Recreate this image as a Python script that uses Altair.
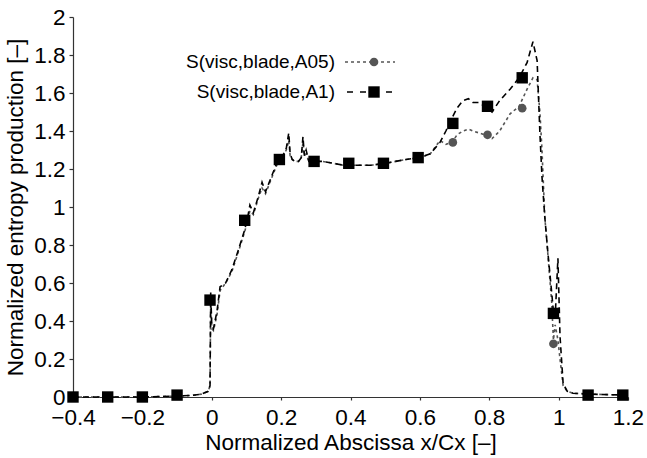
import altair as alt
import pandas as pd

# Line samples (x/Cx) shared by both series
x_line = [-0.4, -0.3, -0.2, -0.1, -0.06, -0.03, -0.01, -0.005, -0.003, 0.0,
          0.005, 0.015, 0.024, 0.04, 0.058, 0.076, 0.095, 0.105, 0.11, 0.12,
          0.135, 0.145, 0.155, 0.17, 0.185, 0.195, 0.205, 0.215, 0.222, 0.226,
          0.232, 0.24, 0.25, 0.258, 0.263, 0.267, 0.272, 0.28, 0.295, 0.32,
          0.35, 0.38, 0.4, 0.43, 0.46, 0.5, 0.53, 0.56, 0.6, 0.63,
          0.658, 0.675, 0.693, 0.707, 0.724, 0.74, 0.753, 0.77, 0.787, 0.808,
          0.83, 0.86, 0.886, 0.909, 0.926, 0.938, 0.946, 0.952, 0.96, 0.969,
          0.98, 0.985, 0.99, 0.998, 1.004, 1.013, 1.025, 1.041, 1.09, 1.19]
y_a1 = [0.0, 0.0, 0.0, 0.005, 0.008, 0.015, 0.03, 0.06, 0.55, 0.38,
        0.36, 0.45, 0.58, 0.6, 0.67, 0.77, 0.88, 0.96, 1.01, 0.97,
        1.06, 1.13, 1.08, 1.15, 1.22, 1.25, 1.27, 1.31, 1.39, 1.28,
        1.25, 1.24, 1.24, 1.26, 1.37, 1.27, 1.3, 1.24, 1.24, 1.24,
        1.23, 1.22, 1.22, 1.22, 1.22, 1.23, 1.24, 1.25, 1.26, 1.28,
        1.34, 1.40, 1.47, 1.52, 1.56, 1.57, 1.55, 1.55, 1.53, 1.50,
        1.56, 1.62, 1.68, 1.76, 1.87, 1.77, 1.39, 1.16, 0.95, 0.76,
        0.55, 0.45, 0.42, 0.73, 0.32, 0.07, 0.03, 0.02, 0.015, 0.01]
y_a05 = [0.0, 0.0, 0.0, 0.005, 0.008, 0.015, 0.03, 0.06, 0.5, 0.36,
         0.35, 0.43, 0.56, 0.6, 0.66, 0.76, 0.87, 0.94, 0.98, 0.96,
         1.05, 1.1, 1.07, 1.14, 1.21, 1.25, 1.27, 1.3, 1.35, 1.27,
         1.25, 1.24, 1.24, 1.26, 1.34, 1.27, 1.28, 1.24, 1.24, 1.24,
         1.23, 1.22, 1.22, 1.22, 1.22, 1.23, 1.24, 1.25, 1.26, 1.28,
         1.35, 1.33, 1.34, 1.38, 1.40, 1.41, 1.40, 1.39, 1.38, 1.36,
         1.40, 1.49, 1.53, 1.62, 1.68, 1.67, 1.50, 1.30, 0.95, 0.75,
         0.50, 0.30, 0.38, 0.30, 0.20, 0.06, 0.03, 0.02, 0.015, 0.01]

# Marker samples
x_mark = [-0.4, -0.3, -0.2, -0.1, -0.005, 0.095, 0.195, 0.295, 0.395, 0.495,
          0.595, 0.695, 0.795, 0.895, 0.985, 1.085, 1.185]
y_mark_a1 = [0.0, 0.0, 0.0, 0.01, 0.51, 0.93, 1.25, 1.24, 1.23, 1.23,
             1.26, 1.44, 1.53, 1.68, 0.44, 0.01, 0.01]
y_mark_a05 = [0.0, 0.0, 0.0, 0.01, 0.51, 0.93, 1.25, 1.24, 1.23, 1.23,
              1.26, 1.34, 1.38, 1.52, 0.28, 0.01, 0.01]

x_ticks = [-0.4, -0.2, 0, 0.2, 0.4, 0.6, 0.8, 1, 1.2]
y_ticks = [0, 0.2, 0.4, 0.6, 0.8, 1, 1.2, 1.4, 1.6, 1.8, 2]

label_a05 = "S(visc,blade,A05)"
label_a1 = "S(visc,blade,A1)"

FONT = "Liberation Sans"
GRAY = "#555555"
AX = "#333333"

lines = pd.DataFrame({"x": x_line, "a05": y_a05, "a1": y_a1})
marks = pd.DataFrame({"x": x_mark, "a05": y_mark_a05, "a1": y_mark_a1})

xs = alt.Scale(domain=[-0.4, 1.2], nice=False)
ys = alt.Scale(domain=[0, 2], nice=False)

xaxis = alt.Axis(
    title="Normalized Abscissa x/Cx [–]", values=x_ticks, format="~g",
    labelOverlap=False, labelFlush=False, labelPadding=6, titlePadding=3,
    tickSize=3)
yaxis = alt.Axis(
    title="Normalized entropy production [–]", values=y_ticks, format="~g",
    labelOverlap=False, labelFlush=False, labelPadding=4, titlePadding=6,
    tickSize=4)


def X():
    return alt.X("x:Q", scale=xs, axis=xaxis)


def Y(field):
    return alt.Y(field, scale=ys, axis=yaxis)


line_a05 = alt.Chart(lines).mark_line(
    color=GRAY, strokeWidth=1.6, strokeDash=[3, 3]
).encode(x=X(), y=Y("a05:Q"))

line_a1 = alt.Chart(lines).mark_line(
    color="black", strokeWidth=1.6, strokeDash=[6, 4]
).encode(x=X(), y=Y("a1:Q"))

pts_a05 = alt.Chart(marks).mark_point(
    shape="circle", filled=True, size=75, color=GRAY, opacity=1
).encode(x=X(), y=Y("a05:Q"))

pts_a1 = alt.Chart(marks).mark_point(
    shape="square", filled=True, size=130, color="black", opacity=1
).encode(x=X(), y=Y("a1:Q"))

# Legend (drawn inside the plot, labels to the left of the symbols)
one = pd.DataFrame({"k": [0]})
leg_text1 = alt.Chart(one).mark_text(
    text=label_a05, align="right", baseline="middle", font=FONT, fontSize=19, color="black"
).encode(x=alt.value(262), y=alt.value(45))
leg_text2 = alt.Chart(one).mark_text(
    text=label_a1, align="right", baseline="middle", font=FONT, fontSize=19, color="black"
).encode(x=alt.value(262), y=alt.value(75))
leg_rule1 = alt.Chart(one).mark_rule(
    color=GRAY, strokeWidth=1.6, strokeDash=[3, 3]
).encode(x=alt.value(272), x2=alt.value(322), y=alt.value(45))
leg_rule2 = alt.Chart(one).mark_rule(
    color="black", strokeWidth=1.6, strokeDash=[6, 7]
).encode(x=alt.value(274), x2=alt.value(322), y=alt.value(75))
leg_pt1 = alt.Chart(one).mark_point(
    shape="circle", filled=True, size=75, color=GRAY, opacity=1
).encode(x=alt.value(301), y=alt.value(45))
leg_pt2 = alt.Chart(one).mark_point(
    shape="square", filled=True, size=130, color="black", opacity=1
).encode(x=alt.value(301), y=alt.value(75))

chart = alt.layer(
    line_a05, line_a1, pts_a05, pts_a1,
    leg_rule1, leg_rule2, leg_pt1, leg_pt2, leg_text1, leg_text2
).properties(
    width=555, height=380,
    autosize=alt.AutoSizeParams(type="none"),
    padding={"left": 73, "top": 17, "right": 19, "bottom": 61},
    background="white",
).configure_view(stroke=None).configure_axis(
    grid=False,
    labelFont=FONT, titleFont=FONT,
    labelFontSize=22.5, titleFontSize=22.5,
    titleFontWeight="normal",
    labelColor="black", titleColor="black",
    domainColor=AX, tickColor=AX,
    domainWidth=1.2, tickWidth=1.2,
)

chart.save("out.html", embed_options={"renderer": "svg", "actions": False})
